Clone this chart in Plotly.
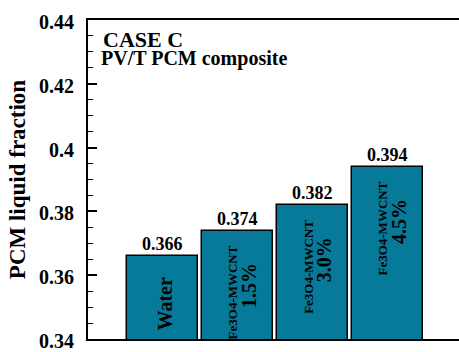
import plotly.graph_objects as go

# ---- data ----
materials = ["Water", "Fe3O4-MWCNT", "Fe3O4-MWCNT", "Fe3O4-MWCNT"]
concentrations = ["", "1.5%", "3.0%", "4.5%"]
liquid_fraction = [0.366, 0.374, 0.382, 0.394]
y_ticks = [0.34, 0.36, 0.38, 0.40, 0.42, 0.44]

positions = list(range(1, len(liquid_fraction) + 1))
FONT = "Liberation Serif"
BAR_COLOR = "#087A99"


def f(size):
    return dict(family=FONT, size=size, color="black")


fig = go.Figure()
fig.add_trace(go.Bar(
    x=positions, y=liquid_fraction, width=0.947,
    marker=dict(color=BAR_COLOR, line=dict(color="black", width=1.5)),
    showlegend=False, hoverinfo="skip",
))

ann = []
for xp, v, m, c in zip(positions, liquid_fraction, materials, concentrations):
    ann.append(dict(x=xp, y=v, xref="x", yref="y", text=f"<b>{v:.3f}</b>",
                    showarrow=False, yanchor="bottom", yshift=0, font=f(18)))
    if c == "":
        ann.append(dict(x=xp, y=v, xref="x", yref="y", text=f"<b>{m}</b>", textangle=-90,
                        showarrow=False, yanchor="top", yshift=-19, xshift=2, font=f(20)))
    else:
        ann.append(dict(x=xp, y=v, xref="x", yref="y", text=f"<b>{m}</b>", textangle=-90,
                        showarrow=False, yanchor="top", yshift=-13, xshift=-5, font=f(13)))
        ann.append(dict(x=xp, y=v, xref="x", yref="y", text=f"<b>{c}</b>", textangle=-90,
                        showarrow=False, yanchor="top", yshift=-30, xshift=11, font=f(20)))

ann.append(dict(x=0.035, y=1, xref="paper", yref="paper", text="<b>CASE C</b>",
                showarrow=False, xanchor="left", yanchor="top", yshift=-5, font=f(22)))
ann.append(dict(x=0.030, y=1, xref="paper", yref="paper", text="<b>PV/T PCM composite</b>",
                showarrow=False, xanchor="left", yanchor="top", yshift=-25, font=f(20)))

fig.update_layout(
    width=459, height=352,
    margin=dict(l=88, r=0, t=20, b=8),
    paper_bgcolor="white", plot_bgcolor="white",
    bargap=0,
    font=f(14),
    annotations=ann,
    xaxis=dict(range=[0, 4.95], showline=True, linecolor="black", linewidth=2,
               mirror=True, showticklabels=False, ticks="", showgrid=False,
               zeroline=False),
    yaxis=dict(range=[0.34, 0.44], tickvals=y_ticks,
               ticktext=[f"<b>{t:g}</b>" for t in y_ticks],
               showline=True, linecolor="black", linewidth=2,
               ticks="inside", ticklen=9, tickwidth=1.5, tickcolor="black",
               minor=dict(dtick=0.005, ticks="inside", ticklen=5, tickwidth=1,
                          tickcolor="black"),
               showgrid=False, zeroline=False, ticklabelstandoff=8,
               ticklabelshift=2,
               ticklabeloverflow="allow",
               tickfont=f(20),
               title=dict(text="<b>PCM liquid fraction</b>", standoff=7, font=f(23))),
)

fig.write_html("out.html")
